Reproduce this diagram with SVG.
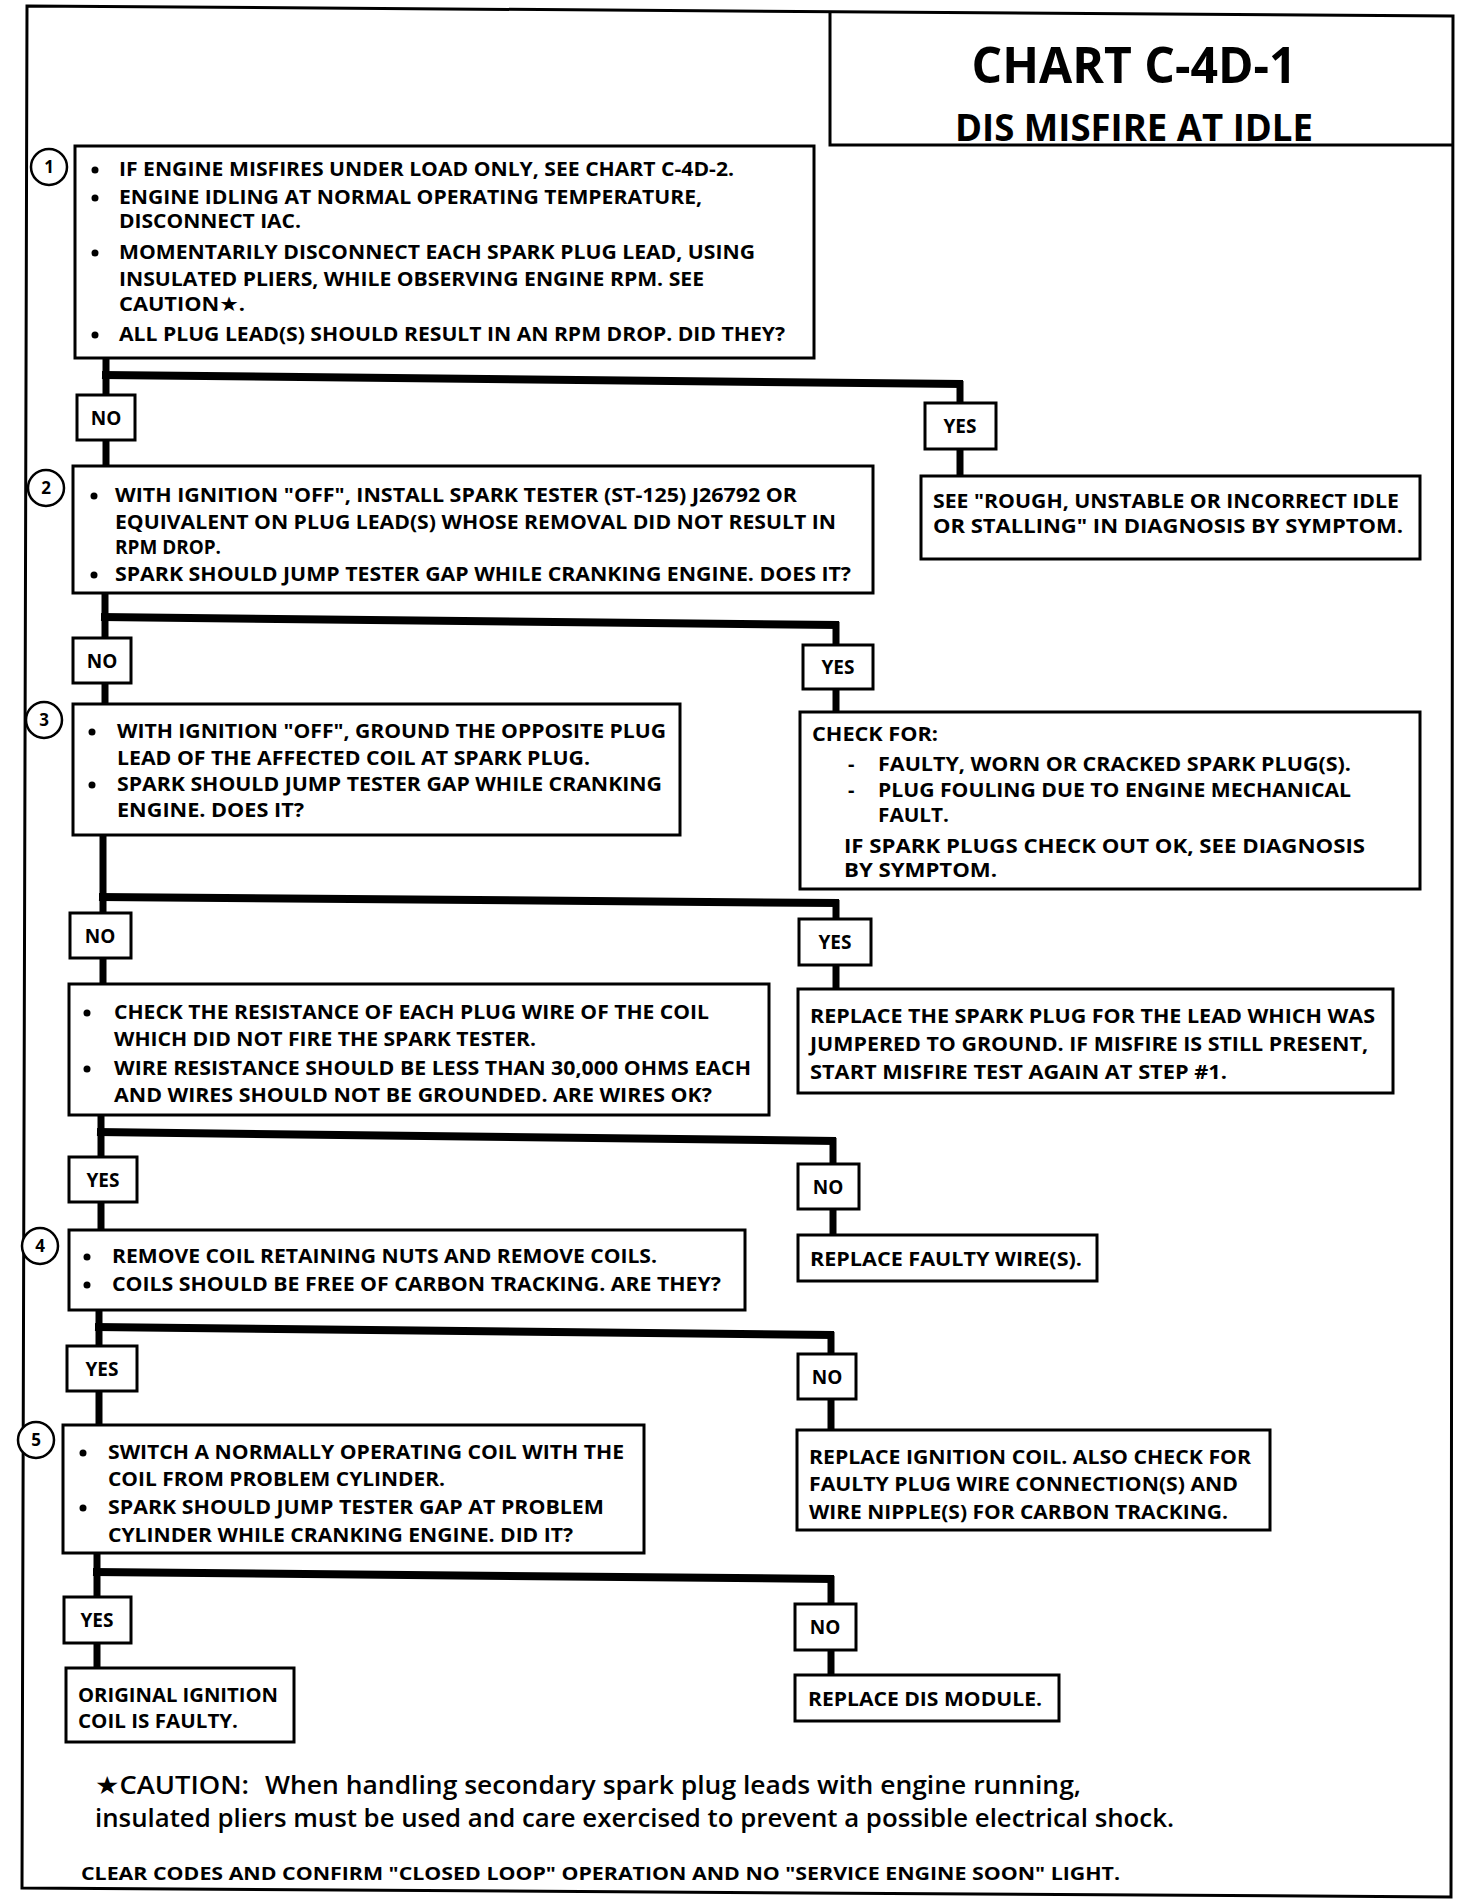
<svg xmlns="http://www.w3.org/2000/svg" width="1472" height="1904" viewBox="0 0 1472 1904">
<style>
.frame{fill:none;stroke:#000;stroke-width:3}
.box{fill:#fff;stroke:#000;stroke-width:3}
.lbl{fill:#fff;stroke:#000;stroke-width:3}
.num{fill:#fff;stroke:#000;stroke-width:2.5}
.v{fill:none;stroke:#000;stroke-width:7}
.bar{fill:none;stroke:#000;stroke-width:8}
text{font-family:"Open Sans","Liberation Sans","DejaVu Sans",sans-serif;font-weight:700;fill:#000}
.t{font-size:20px}
.yn{font-size:19px;text-anchor:middle}
.n{font-size:17px;text-anchor:middle}
.title{font-size:50px;text-anchor:middle}
.sub{font-size:38px;text-anchor:middle}
.cau{font-size:25px;font-weight:600}
.foot{font-size:17px}
.bul{fill:#000}
</style>
<rect width="1472" height="1904" fill="#fff"/>
<path class="frame" d="M27,6 L1453,16 L1451,1897 L22,1888 Z"/>
<g id="title">
<path class="frame" d="M830,12 V145 H1452"/>
<text class="title" x="1134" y="83" textLength="325" lengthAdjust="spacingAndGlyphs">CHART C-4D-1</text>
<text class="sub" x="1134" y="141" textLength="358" lengthAdjust="spacingAndGlyphs">DIS MISFIRE AT IDLE</text>
</g>
<g id="connectors">
<path class="v" d="M106,358 V466"/>
<path class="bar" d="M102,375 L963,384"/>
<path class="v" d="M960,381 V477"/>
<path class="v" d="M105,593 V704"/>
<path class="bar" d="M101,617 L839,625"/>
<path class="v" d="M836,622 V713"/>
<path class="v" d="M103,835 V985"/>
<path class="bar" d="M99,897 L839,903"/>
<path class="v" d="M836,900 V989"/>
<path class="v" d="M101,1115 V1230"/>
<path class="bar" d="M97,1132 L836,1141"/>
<path class="v" d="M833,1138 V1235"/>
<path class="v" d="M99,1310 V1425"/>
<path class="bar" d="M95,1327 L834,1335"/>
<path class="v" d="M831,1332 V1430"/>
<path class="v" d="M97,1553 V1668"/>
<path class="bar" d="M93,1572 L834,1579"/>
<path class="v" d="M831,1576 V1675"/>
</g>
<g id="labels">
<g id="no1"><rect class="lbl" x="77" y="395" width="58" height="45"/><text class="yn" x="106" y="425">NO</text></g>
<g id="yes1"><rect class="lbl" x="925" y="403" width="71" height="46"/><text class="yn" x="960" y="433">YES</text></g>
<g id="no2"><rect class="lbl" x="73" y="638" width="58" height="45"/><text class="yn" x="102" y="668">NO</text></g>
<g id="yes2"><rect class="lbl" x="803" y="645" width="70" height="44"/><text class="yn" x="838" y="674">YES</text></g>
<g id="no3"><rect class="lbl" x="70" y="913" width="61" height="45"/><text class="yn" x="100" y="943">NO</text></g>
<g id="yes3"><rect class="lbl" x="799" y="919" width="72" height="46"/><text class="yn" x="835" y="949">YES</text></g>
<g id="yes4"><rect class="lbl" x="69" y="1157" width="68" height="45"/><text class="yn" x="103" y="1187">YES</text></g>
<g id="no4"><rect class="lbl" x="798" y="1164" width="61" height="45"/><text class="yn" x="828" y="1194">NO</text></g>
<g id="yes5"><rect class="lbl" x="67" y="1346" width="70" height="45"/><text class="yn" x="102" y="1376">YES</text></g>
<g id="no5"><rect class="lbl" x="798" y="1354" width="58" height="45"/><text class="yn" x="827" y="1384">NO</text></g>
<g id="yes6"><rect class="lbl" x="64" y="1597" width="67" height="46"/><text class="yn" x="97" y="1627">YES</text></g>
<g id="no6"><rect class="lbl" x="795" y="1604" width="61" height="46"/><text class="yn" x="825" y="1634">NO</text></g>
</g>
<g id="step1">
<rect class="box" x="75" y="146" width="739" height="212"/>
<circle class="num" cx="49" cy="167" r="18"/><text class="n" x="49" y="173">1</text>
<circle class="bul" cx="95" cy="170" r="3.5"/><circle class="bul" cx="95" cy="198" r="3.5"/><circle class="bul" cx="95" cy="253" r="3.5"/><circle class="bul" cx="95" cy="335" r="3.5"/>
<text class="t" x="119" y="176" textLength="615" lengthAdjust="spacingAndGlyphs">IF ENGINE MISFIRES UNDER LOAD ONLY, SEE CHART C-4D-2.</text>
<text class="t" x="119" y="204" textLength="583" lengthAdjust="spacingAndGlyphs">ENGINE IDLING AT NORMAL OPERATING TEMPERATURE,</text>
<text class="t" x="119" y="228" textLength="182" lengthAdjust="spacingAndGlyphs">DISCONNECT IAC.</text>
<text class="t" x="119" y="259" textLength="636" lengthAdjust="spacingAndGlyphs">MOMENTARILY DISCONNECT EACH SPARK PLUG LEAD, USING</text>
<text class="t" x="119" y="286" textLength="585" lengthAdjust="spacingAndGlyphs">INSULATED PLIERS, WHILE OBSERVING ENGINE RPM.  SEE</text>
<text class="t" x="119" y="311" textLength="126" lengthAdjust="spacingAndGlyphs">CAUTION★.</text>
<text class="t" x="119" y="341" textLength="666" lengthAdjust="spacingAndGlyphs">ALL PLUG LEAD(S) SHOULD RESULT IN AN RPM DROP.  DID THEY?</text>
</g>
<g id="see-rough">
<rect class="box" x="921" y="476" width="499" height="83"/>
<text class="t" x="933" y="508" textLength="466" lengthAdjust="spacingAndGlyphs">SEE "ROUGH, UNSTABLE OR INCORRECT IDLE</text>
<text class="t" x="933" y="533" textLength="470" lengthAdjust="spacingAndGlyphs">OR STALLING" IN DIAGNOSIS BY SYMPTOM.</text>
</g>
<g id="step2">
<rect class="box" x="73" y="466" width="800" height="127"/>
<circle class="num" cx="46" cy="488" r="18"/><text class="n" x="46" y="494">2</text>
<circle class="bul" cx="94" cy="496" r="3.5"/><circle class="bul" cx="94" cy="575" r="3.5"/>
<text class="t" x="115" y="502" textLength="682" lengthAdjust="spacingAndGlyphs">WITH IGNITION "OFF", INSTALL SPARK TESTER (ST-125) J26792 OR</text>
<text class="t" x="115" y="529" textLength="721" lengthAdjust="spacingAndGlyphs">EQUIVALENT ON PLUG LEAD(S) WHOSE REMOVAL DID NOT RESULT IN</text>
<text class="t" x="115" y="554" textLength="106" lengthAdjust="spacingAndGlyphs">RPM DROP.</text>
<text class="t" x="115" y="581" textLength="736" lengthAdjust="spacingAndGlyphs">SPARK SHOULD JUMP TESTER GAP WHILE CRANKING ENGINE.  DOES IT?</text>
</g>
<g id="check-for">
<rect class="box" x="800" y="712" width="620" height="177"/>
<text class="t" x="812" y="741" textLength="126" lengthAdjust="spacingAndGlyphs">CHECK FOR:</text>
<text class="t" x="848" y="771">-</text>
<text class="t" x="878" y="771" textLength="473" lengthAdjust="spacingAndGlyphs">FAULTY, WORN OR CRACKED SPARK PLUG(S).</text>
<text class="t" x="848" y="797">-</text>
<text class="t" x="878" y="797" textLength="473" lengthAdjust="spacingAndGlyphs">PLUG FOULING DUE TO ENGINE MECHANICAL</text>
<text class="t" x="878" y="822" textLength="71" lengthAdjust="spacingAndGlyphs">FAULT.</text>
<text class="t" x="844" y="853" textLength="521" lengthAdjust="spacingAndGlyphs">IF SPARK PLUGS CHECK OUT OK,  SEE DIAGNOSIS</text>
<text class="t" x="844" y="877" textLength="153" lengthAdjust="spacingAndGlyphs">BY SYMPTOM.</text>
</g>
<g id="step3">
<rect class="box" x="73" y="704" width="607" height="131"/>
<circle class="num" cx="44" cy="720" r="18"/><text class="n" x="44" y="726">3</text>
<circle class="bul" cx="92" cy="732" r="3.5"/><circle class="bul" cx="92" cy="785" r="3.5"/>
<text class="t" x="117" y="738" textLength="549" lengthAdjust="spacingAndGlyphs">WITH IGNITION "OFF", GROUND THE OPPOSITE PLUG</text>
<text class="t" x="117" y="765" textLength="473" lengthAdjust="spacingAndGlyphs">LEAD OF THE AFFECTED COIL AT SPARK PLUG.</text>
<text class="t" x="117" y="791" textLength="545" lengthAdjust="spacingAndGlyphs">SPARK SHOULD JUMP TESTER GAP WHILE CRANKING</text>
<text class="t" x="117" y="817" textLength="187" lengthAdjust="spacingAndGlyphs">ENGINE.  DOES IT?</text>
</g>
<g id="check-wires">
<rect class="box" x="69" y="984" width="700" height="131"/>
<circle class="bul" cx="87" cy="1013" r="3.5"/><circle class="bul" cx="87" cy="1069" r="3.5"/>
<text class="t" x="114" y="1019" textLength="595" lengthAdjust="spacingAndGlyphs">CHECK THE RESISTANCE OF EACH PLUG WIRE OF THE COIL</text>
<text class="t" x="114" y="1046" textLength="422" lengthAdjust="spacingAndGlyphs">WHICH DID NOT FIRE THE SPARK TESTER.</text>
<text class="t" x="114" y="1075" textLength="637" lengthAdjust="spacingAndGlyphs">WIRE RESISTANCE SHOULD BE LESS THAN 30,000 OHMS EACH</text>
<text class="t" x="114" y="1102" textLength="598" lengthAdjust="spacingAndGlyphs">AND WIRES SHOULD NOT BE GROUNDED.  ARE WIRES OK?</text>
</g>
<g id="replace-plug">
<rect class="box" x="798" y="989" width="595" height="104"/>
<text class="t" x="810" y="1023" textLength="565" lengthAdjust="spacingAndGlyphs">REPLACE THE SPARK PLUG FOR THE LEAD WHICH WAS</text>
<text class="t" x="810" y="1051" textLength="558" lengthAdjust="spacingAndGlyphs">JUMPERED TO GROUND.  IF MISFIRE IS STILL PRESENT,</text>
<text class="t" x="810" y="1079" textLength="417" lengthAdjust="spacingAndGlyphs">START MISFIRE TEST AGAIN AT STEP #1.</text>
</g>
<g id="step4">
<rect class="box" x="69" y="1230" width="676" height="80"/>
<circle class="num" cx="40" cy="1246" r="18"/><text class="n" x="40" y="1252">4</text>
<circle class="bul" cx="87" cy="1257" r="3.5"/><circle class="bul" cx="87" cy="1285" r="3.5"/>
<text class="t" x="112" y="1263" textLength="545" lengthAdjust="spacingAndGlyphs">REMOVE COIL RETAINING NUTS AND REMOVE COILS.</text>
<text class="t" x="112" y="1291" textLength="609" lengthAdjust="spacingAndGlyphs">COILS SHOULD BE FREE OF CARBON TRACKING.  ARE THEY?</text>
</g>
<g id="replace-wires">
<rect class="box" x="798" y="1235" width="299" height="46"/>
<text class="t" x="810" y="1266" textLength="272" lengthAdjust="spacingAndGlyphs">REPLACE FAULTY WIRE(S).</text>
</g>
<g id="step5">
<rect class="box" x="63" y="1425" width="581" height="128"/>
<circle class="num" cx="36" cy="1440" r="18"/><text class="n" x="36" y="1446">5</text>
<circle class="bul" cx="83" cy="1453" r="3.5"/><circle class="bul" cx="83" cy="1508" r="3.5"/>
<text class="t" x="108" y="1459" textLength="516" lengthAdjust="spacingAndGlyphs">SWITCH A NORMALLY OPERATING COIL WITH THE</text>
<text class="t" x="108" y="1486" textLength="337" lengthAdjust="spacingAndGlyphs">COIL FROM PROBLEM CYLINDER.</text>
<text class="t" x="108" y="1514" textLength="496" lengthAdjust="spacingAndGlyphs">SPARK SHOULD JUMP TESTER GAP AT PROBLEM</text>
<text class="t" x="108" y="1542" textLength="465" lengthAdjust="spacingAndGlyphs">CYLINDER WHILE CRANKING ENGINE.  DID IT?</text>
</g>
<g id="replace-coil">
<rect class="box" x="797" y="1430" width="473" height="100"/>
<text class="t" x="809" y="1464" textLength="442" lengthAdjust="spacingAndGlyphs">REPLACE IGNITION COIL.  ALSO CHECK FOR</text>
<text class="t" x="809" y="1491" textLength="429" lengthAdjust="spacingAndGlyphs">FAULTY PLUG WIRE CONNECTION(S) AND</text>
<text class="t" x="809" y="1519" textLength="419" lengthAdjust="spacingAndGlyphs">WIRE NIPPLE(S) FOR CARBON TRACKING.</text>
</g>
<g id="coil-faulty">
<rect class="box" x="66" y="1668" width="228" height="74"/>
<text class="t" x="78" y="1702" textLength="200" lengthAdjust="spacingAndGlyphs">ORIGINAL IGNITION</text>
<text class="t" x="78" y="1728" textLength="160" lengthAdjust="spacingAndGlyphs">COIL IS FAULTY.</text>
</g>
<g id="replace-module">
<rect class="box" x="795" y="1675" width="264" height="46"/>
<text class="t" x="808" y="1706" textLength="234" lengthAdjust="spacingAndGlyphs">REPLACE DIS MODULE.</text>
</g>
<g id="notes">
<text class="cau" x="95" y="1794" font-weight="700" textLength="154" lengthAdjust="spacingAndGlyphs">★CAUTION:</text>
<text class="cau" x="265" y="1794" textLength="816" lengthAdjust="spacingAndGlyphs">When handling secondary spark plug leads with engine running,</text>
<text class="cau" x="95" y="1827" textLength="1079" lengthAdjust="spacingAndGlyphs">insulated pliers must be used and care exercised to prevent a possible electrical shock.</text>
<text class="foot" x="81" y="1880" textLength="1039" lengthAdjust="spacingAndGlyphs">CLEAR CODES AND CONFIRM "CLOSED LOOP"  OPERATION AND NO "SERVICE ENGINE SOON" LIGHT.</text>
</g>
</svg>
